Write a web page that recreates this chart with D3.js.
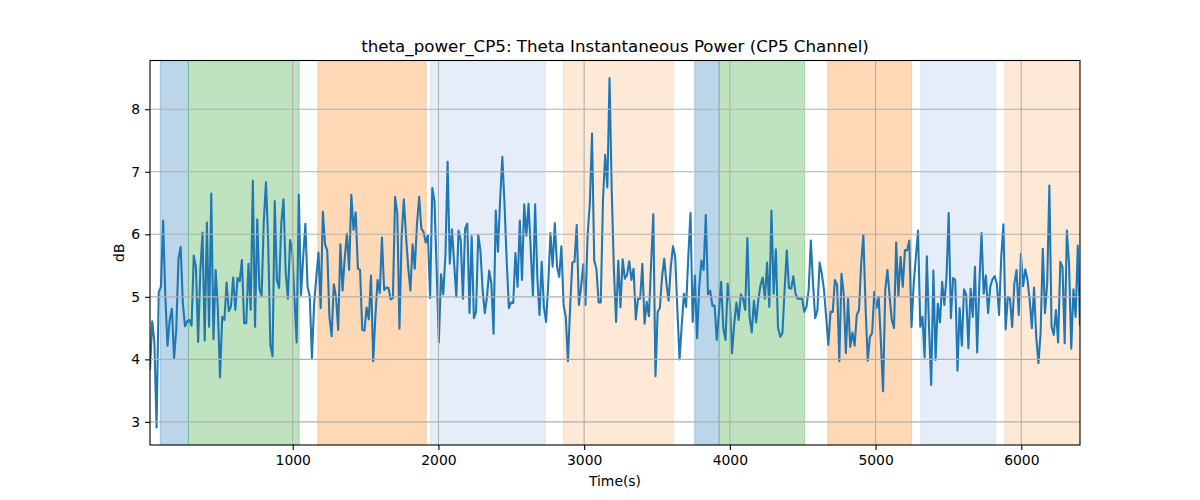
<!DOCTYPE html>
<html>
<head>
<meta charset="utf-8">
<script src="https://cdn.jsdelivr.net/npm/d3@7"></script>
<style>
html,body{margin:0;padding:0;background:#fff;}
svg{display:block;font-family:"DejaVu Sans",sans-serif;}
</style>
</head>
<body>
<svg id="chart" width="1200" height="500"></svg>
<script>
// ---- data ----
const title = "theta_power_CP5: Theta Instantaneous Power (CP5 Channel)";
const xLabel = "Time(s)";
const yLabel = "dB";
const startTime = 20.6;
const sampleStep = 15.017;
const values = [
3.83,4.61,4.28,2.91,5.08,5.16,6.22,5.00,4.22,4.63,4.81,4.02,4.47,5.60,5.80,4.90,4.53,4.61,4.63,4.54,
5.66,5.47,4.28,5.42,6.03,4.30,6.19,4.52,6.65,4.32,5.43,4.82,3.71,4.68,4.63,5.23,4.77,4.85,5.31,4.79,
5.30,5.25,5.59,4.58,4.58,5.53,4.79,6.86,4.52,6.24,5.13,5.01,6.21,6.83,5.90,4.23,4.05,6.53,5.26,5.14,
6.18,6.56,5.40,4.97,5.91,5.73,5.00,4.27,6.63,5.03,5.63,6.17,5.16,5.01,4.02,4.89,5.31,5.71,4.82,6.36,
5.84,5.74,4.68,4.37,5.20,5.00,4.47,5.84,5.10,5.63,6.01,5.43,6.63,6.07,6.35,5.45,5.43,4.47,4.46,4.83,
4.64,5.34,3.97,4.69,5.27,5.06,5.95,5.11,5.15,5.14,4.96,4.98,6.60,6.34,4.49,5.98,6.56,5.97,5.47,5.10,
5.84,5.45,6.16,6.60,6.09,6.04,5.87,5.98,4.98,6.74,6.53,5.43,4.27,5.36,5.04,5.66,7.16,5.53,6.08,5.53,
5.00,6.06,5.90,4.97,6.09,6.17,4.74,5.97,4.66,4.76,5.99,5.74,5.11,4.74,5.00,5.42,5.21,4.41,6.38,5.72,
6.54,7.24,6.49,5.58,4.82,4.91,4.90,5.70,5.16,6.22,5.27,6.48,5.98,6.49,5.74,5.02,6.48,5.32,4.71,5.56,
4.84,4.60,5.21,6.02,5.48,6.18,5.48,5.32,5.81,4.87,4.68,3.97,4.84,5.55,5.56,6.15,4.87,5.16,5.52,4.87,
6.00,6.49,7.61,5.58,5.45,4.91,4.91,6.54,7.27,6.75,8.50,6.70,5.43,4.60,5.58,4.83,5.60,5.29,5.35,5.57,
5.27,5.45,4.64,4.97,4.97,5.53,4.57,4.92,4.69,5.53,6.32,3.73,4.76,4.82,5.32,5.61,5.21,4.94,5.48,5.81,
5.64,4.79,4.00,4.55,5.05,4.84,5.64,6.34,4.60,5.34,4.34,5.16,5.58,5.43,6.31,5.04,5.10,4.86,4.86,4.31,
4.75,5.24,4.50,4.31,5.21,4.89,4.10,4.58,4.91,4.63,5.04,4.97,4.79,5.94,4.68,4.43,4.94,4.59,4.95,5.19,
5.31,4.97,5.55,4.84,6.38,5.05,5.76,4.50,4.36,4.42,5.11,5.74,5.14,5.13,5.33,5.05,4.97,4.97,4.97,4.76,
4.84,5.11,5.90,5.21,4.66,4.79,5.55,5.37,5.11,4.68,4.23,4.76,4.76,5.27,5.19,3.97,5.37,5.05,4.10,4.97,
4.20,4.43,4.22,4.71,4.79,5.53,5.99,4.84,3.98,4.36,4.42,5.08,4.82,5.00,4.28,3.49,5.11,5.43,5.00,4.63,
4.50,5.87,5.02,5.64,5.16,5.75,5.74,5.90,4.52,5.21,5.64,6.06,4.52,4.68,4.03,5.65,4.52,3.59,5.42,3.99,
4.89,4.59,5.24,4.87,5.32,6.34,4.66,5.30,5.27,3.82,4.82,4.22,5.12,5.03,4.18,5.13,4.68,5.48,4.11,5.21,
6.02,5.05,5.34,4.74,5.16,5.28,5.33,5.21,4.71,5.64,6.16,4.48,5.00,4.97,4.52,5.21,5.43,4.71,5.69,5.17,
5.44,5.27,4.95,4.50,5.15,4.36,3.94,4.42,5.77,4.74,5.21,6.78,4.52,4.39,4.79,4.27,5.56,5.48,4.26,6.06,
5.53,4.17,5.12,4.68,5.82,4.53
];
const spanStarts = [91, 284, 1172, 1946, 2859, 3759, 3926, 4672, 5311, 5888];
const spanEnds   = [284, 1044, 1916, 2734, 3613, 3926, 4512, 5247, 5824, 6403];
const spanKinds  = ["blue","green","orange","lightblue","lightorange","blue","green","orange","lightblue","lightorange"];
const xTicks = [1000, 2000, 3000, 4000, 5000, 6000];
const yTicks = [3, 4, 5, 6, 7, 8];

const times = values.map((v, i) => startTime + i * sampleStep);
const spanStyle = {
  blue: {c: "#1f77b4", a: 0.3},
  green: {c: "#2ca02c", a: 0.3},
  orange: {c: "#ff7f0e", a: 0.3},
  lightblue: {c: "#6f9fd8", a: 0.18},
  lightorange: {c: "#fca85a", a: 0.25}
};

// ---- layout ----
const svg = d3.select("#chart");
const L = 150, R = 1080, T = 60.5, B = 445;
const x = d3.scaleLinear().domain([times[0], times[times.length - 1]]).range([L, R]);
const yMin = d3.min(values), yMax = d3.max(values), pad = (yMax - yMin) * 0.05;
const y = d3.scaleLinear().domain([yMin - pad, yMax + pad]).range([B, T]);

svg.append("defs").append("clipPath").attr("id", "clip")
  .append("rect").attr("x", L).attr("y", T).attr("width", R - L).attr("height", B - T);

const plot = svg.append("g").attr("clip-path", "url(#clip)");

// spans
plot.selectAll("rect.span").data(spanKinds.map((k, i) => ({k, s: spanStarts[i], e: spanEnds[i]})))
  .enter().append("rect").attr("class", "span")
  .attr("x", d => x(d.s)).attr("width", d => x(d.e) - x(d.s))
  .attr("y", T).attr("height", B - T)
  .attr("fill", d => spanStyle[d.k].c).attr("fill-opacity", d => spanStyle[d.k].a)
  .attr("stroke", d => spanStyle[d.k].c).attr("stroke-opacity", d => spanStyle[d.k].a)
  .attr("stroke-width", 1);

// grid
const grid = svg.append("g");
grid.selectAll("line.gx").data(xTicks).enter().append("line")
  .attr("x1", d => x(d)).attr("x2", d => x(d)).attr("y1", T).attr("y2", B)
  .attr("stroke", "#b0b0b0").attr("stroke-width", 1.1);
grid.selectAll("line.gy").data(yTicks).enter().append("line")
  .attr("y1", d => y(d)).attr("y2", d => y(d)).attr("x1", L).attr("x2", R)
  .attr("stroke", "#b0b0b0").attr("stroke-width", 1.1);

// line
plot.append("path").datum(values)
  .attr("fill", "none").attr("stroke", "#1f77b4").attr("stroke-width", 2.08)
  .attr("stroke-linejoin", "round").attr("stroke-linecap", "butt")
  .attr("d", d3.line().x((d, i) => x(times[i])).y(d => y(d)));

// axes
const xAxis = svg.append("g").attr("transform", `translate(0,${B})`)
  .call(d3.axisBottom(x).tickValues(xTicks).tickSize(4.9).tickPadding(4.9).tickFormat(d3.format("d")));
const yAxis = svg.append("g").attr("transform", `translate(${L},0)`)
  .call(d3.axisLeft(y).tickValues(yTicks).tickSize(4.9).tickPadding(4.9).tickFormat(d3.format("d")));
[xAxis, yAxis].forEach(g => {
  g.select(".domain").remove();
  g.selectAll(".tick line").attr("stroke", "#000").attr("stroke-width", 1.1);
  g.selectAll(".tick text").attr("font-size", "13.9px").attr("fill", "#000")
    .attr("font-family", "DejaVu Sans, sans-serif");
});

// frame
svg.append("rect").attr("x", L).attr("y", T).attr("width", R - L).attr("height", B - T)
  .attr("fill", "none").attr("stroke", "#000").attr("stroke-width", 1.1);

// labels
svg.append("text").attr("x", (L + R) / 2).attr("y", 52).attr("text-anchor", "middle")
  .attr("font-size", "16.7px").attr("fill", "#000").text(title);
svg.append("text").attr("x", (L + R) / 2).attr("y", 486).attr("text-anchor", "middle")
  .attr("font-size", "13.9px").attr("fill", "#000").text(xLabel);
svg.append("text").attr("transform", `translate(124,${(T + B) / 2}) rotate(-90)`)
  .attr("text-anchor", "middle").attr("font-size", "13.9px").attr("fill", "#000").text(yLabel);
</script>
</body>
</html>
